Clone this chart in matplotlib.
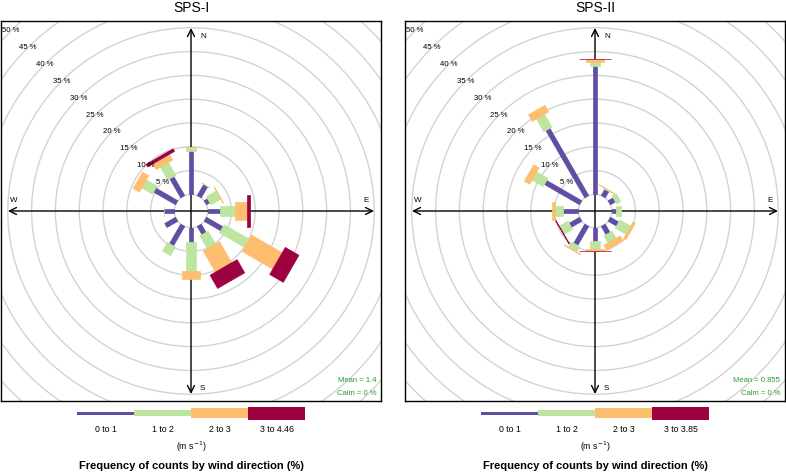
import numpy as np
import matplotlib
matplotlib.use("Agg")
import matplotlib.pyplot as plt
from matplotlib.patches import Polygon, Circle, Rectangle

plt.rcParams['font.family'] = ['Liberation Sans', 'DejaVu Sans']

# ---------------- data ----------------
directions = [0, 30, 60, 90, 120, 150, 180, 210, 240, 270, 300, 330]

# SPS-I frequencies (%) per speed bin
sps1_0_1 = [9.2, 2.7, 0.8, 2.6, 4.0, 2.0, 3.1, 4.7, 2.6, 2.1, 5.3, 4.6]
sps1_1_2 = [0.8, 0.05, 2.4, 3.2, 6.1, 3.1, 6.0, 2.1, 0.0, 0.05, 2.6, 3.1]
sps1_2_3 = [0.05, 0.0, 0.1, 2.4, 7.4, 5.1, 1.7, 0.0, 0.0, 0.0, 1.5, 1.4]
sps1_3_max = [0.0, 0.0, 0.0, 0.7, 3.3, 3.2, 0.0, 0.0, 0.0, 0.0, 0.0, 0.6]
sps1_labels = ["0 to 1", "1 to 2", "2 to 3", "3 to 4.46"]
sps1_mean = "Mean = 1.4"
sps1_calm = "Calm = 0 %"

# SPS-II frequencies (%) per speed bin
sps2_0_1 = [26.9, 1.5, 1.2, 1.0, 2.0, 2.0, 2.9, 4.6, 2.5, 3.2, 8.5, 16.3]
sps2_1_2 = [1.0, 0.15, 1.0, 0.9, 2.6, 1.7, 1.5, 1.3, 2.1, 1.7, 2.7, 3.1]
sps2_2_3 = [0.55, 0.08, 0.0, 0.0, 0.55, 1.2, 0.5, 0.1, 0.0, 0.6, 1.3, 1.6]
sps2_3_max = [0.1, 0.0, 0.0, 0.0, 0.0, 0.0, 0.1, 0.0, 0.1, 0.0, 0.0, 0.0]
sps2_labels = ["0 to 1", "1 to 2", "2 to 3", "3 to 3.85"]
sps2_mean = "Mean = 0.855"
sps2_calm = "Calm = 0 %"

grid_pcts = [5, 10, 15, 20, 25, 30, 35, 40, 45, 50]
titles = ["SPS-I", "SPS-II"]

# ---------------- style ----------------
colors = ["#5E4FA2", "#BEE5A0", "#FDBE6F", "#9E0142"]
px_per_unit = 4.76
half_widths_px = [2.3, 4.7, 9.4, 15.6]
half_widths = [h / px_per_unit for h in half_widths_px]   # in % units
offset = 16.6 / px_per_unit                                # inner hole radius
W, H = 786, 472

fig = plt.figure(figsize=(W / 100, H / 100), dpi=100)


def paddle(ax, wd, r1, r2, hw, color):
    th = np.deg2rad(wd)
    u = np.array([np.sin(th), np.cos(th)])
    p = np.array([np.cos(th), -np.sin(th)])
    a = (offset + r1) * u
    b = (offset + r2) * u
    pts = [a - hw * p, a + hw * p, b + hw * p, b - hw * p]
    ax.add_patch(Polygon(pts, closed=True, facecolor=color, edgecolor=color,
                         lw=0.5, zorder=3))


def draw_rose(ax, bins, mean_txt, calm_txt):
    half = 190 / px_per_unit
    ax.set_xlim(-half, half)
    ax.set_ylim(-half, half)
    ax.set_aspect('equal')
    ax.set_xticks([])
    ax.set_yticks([])
    for s in ax.spines.values():
        s.set_color('black')
        s.set_linewidth(1.0)
    # grid circles
    ax.add_patch(Circle((0, 0), offset, fill=False, ec='#d3d3d3', lw=1.0, zorder=1))
    for g in grid_pcts:
        ax.add_patch(Circle((0, 0), offset + g, fill=False, ec='#d3d3d3', lw=1.0, zorder=1))
        r = offset + g
        ax.text(-r * np.sin(np.pi / 4), r * np.cos(np.pi / 4), f"{g} %",
                ha='center', va='center', fontsize=5.6, color='black', zorder=5)
    # axes arrows
    R = 183 / px_per_unit
    ap = dict(arrowstyle='<->,head_length=0.5,head_width=0.25', lw=1.0,
              color='black', shrinkA=0, shrinkB=0)
    ax.annotate('', xy=(0, R), xytext=(0, -R), arrowprops=ap, zorder=2)
    ax.annotate('', xy=(R, 0), xytext=(-R, 0), arrowprops=ap, zorder=2)
    ax.text(12 / px_per_unit, 174 / px_per_unit, "N", ha='center', va='center', fontsize=5.8)
    ax.text(175 / px_per_unit, 11 / px_per_unit, "E", ha='center', va='center', fontsize=5.8)
    ax.text(11 / px_per_unit, -177 / px_per_unit, "S", ha='center', va='center', fontsize=5.8)
    ax.text(-177 / px_per_unit, 11 / px_per_unit, "W", ha='center', va='center', fontsize=5.8)
    # paddles
    for i, wd in enumerate(directions):
        cum = 0.0
        for j, series in enumerate(bins):
            v = series[i]
            if v > 0:
                paddle(ax, wd, cum, cum + v, half_widths[j], colors[j])
            cum += v
    ax.text(0.987, 0.053, mean_txt, transform=ax.transAxes, ha='right', va='center',
            fontsize=5.5, color='#2e9a2e')
    ax.text(0.987, 0.021, calm_txt, transform=ax.transAxes, ha='right', va='center',
            fontsize=5.5, color='#2e9a2e')


panels = [
    (1, [sps1_0_1, sps1_1_2, sps1_2_3, sps1_3_max], sps1_labels, sps1_mean, sps1_calm),
    (405, [sps2_0_1, sps2_1_2, sps2_2_3, sps2_3_max], sps2_labels, sps2_mean, sps2_calm),
]

# overlay axes in pixel coordinates for legends/titles
lax = fig.add_axes([0, 0, 1, 1])
lax.set_xlim(0, W)
lax.set_ylim(H, 0)
lax.axis('off')

seg_w = 57
seg_h = [3, 6, 10, 13]
for k, (left, bins, labels, mtxt, ctxt) in enumerate(panels):
    ax = fig.add_axes([left / W, (H - 401) / H, 380 / W, 380 / H])
    draw_rose(ax, bins, mtxt, ctxt)
    cx = left + 190
    lax.text(cx, 8, titles[k], ha='center', va='center', fontsize=10)
    x0 = cx - 2 * seg_w
    for j in range(4):
        lax.add_patch(Rectangle((x0 + j * seg_w, 413 - seg_h[j] / 2), seg_w, seg_h[j],
                                facecolor=colors[j], edgecolor='none'))
        lax.text(x0 + j * seg_w + seg_w / 2, 430, labels[j], ha='center', va='center',
                 fontsize=6.3)
    lax.text(cx, 447, r"(m s$^{-1}$)", ha='center', va='center', fontsize=6.3)
    lax.text(cx, 466, "Frequency of counts by wind direction (%)", ha='center',
             va='center', fontsize=8, fontweight='bold')

fig.savefig("out.png", dpi=100)
